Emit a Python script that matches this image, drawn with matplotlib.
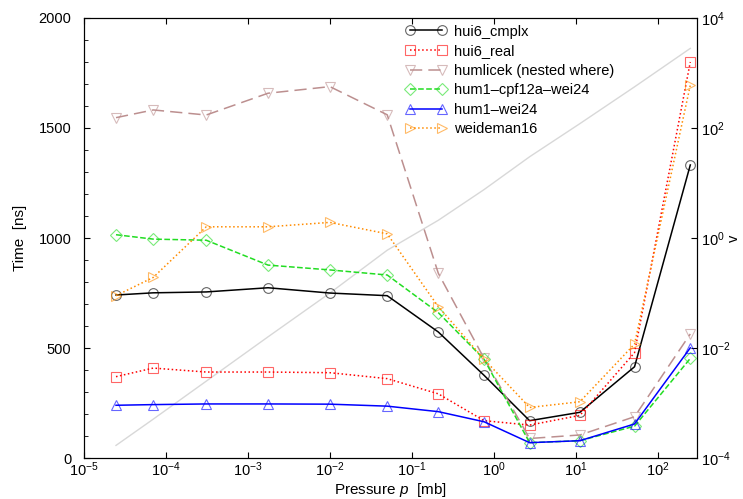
import numpy as np
import matplotlib
matplotlib.use("Agg")
from matplotlib import pyplot as plt
from matplotlib.ticker import NullLocator, MultipleLocator
from matplotlib.transforms import ScaledTranslation

plt.rcParams['font.family'] = ['Liberation Sans', 'DejaVu Sans']
plt.rcParams['mathtext.fontset'] = 'custom'
plt.rcParams['mathtext.rm'] = 'Liberation Sans'
plt.rcParams['mathtext.it'] = 'Liberation Sans:italic'

# pressure levels [mb]
pressure = [2.46e-5, 7.0e-5, 3.1e-4, 1.76e-3, 1.0e-2, 0.05, 0.21, 0.76, 2.73, 11.2, 52.0, 249.0]

# timings [ns]
hui6_cmplx = [741, 751, 755, 774, 750, 738, 573, 376, 170, 208, 415, 1332]
hui6_real = [370, 409, 391, 391, 388, 361, 292, 170, 150, 194, 479, 1800]
humlicek = [1547, 1582, 1559, 1658, 1688, 1560, 840, 453, 89, 105, 188, 564]
hum1_cpf12a = [1015, 995, 990, 877, 855, 832, 661, 449, 70, 79, 145, 453]
hum1_wei24 = [240, 243, 246, 246, 245, 236, 211, 165, 70, 79, 155, 501]
weideman16 = [738, 821, 1051, 1051, 1071, 1019, 688, 449, 230, 256, 518, 1695]

# Voigt parameter (right axis)
v_param = [1.7e-4, 5.1e-4, 2.5e-3, 0.016, 0.1, 0.6, 2.1, 7.6, 30.0, 120.0, 560.0, 2800.0]

series = [
    ('hui6_cmplx', hui6_cmplx, 'black', '-', 'o'),
    ('hui6_real', hui6_real, 'red', ':', 's'),
    ('humlicek (nested where)', humlicek, '#bc8f8f', (0, (8, 4)), 'v'),
    ('hum1\u2013cpf12a\u2013wei24', hum1_cpf12a, '#22dd22', '--', 'D'),
    ('hum1\u2013wei24', hum1_wei24, 'blue', '-', '^'),
    ('weideman16', weideman16, 'darkorange', ':', '>'),
]

fig = plt.figure(figsize=(7.43, 4.99), dpi=100)
ax = fig.add_axes([0.113, 0.082, 0.825, 0.882])
ax2 = ax.twinx()

ax2.plot(pressure, v_param, color='#d8d8d8', lw=1.0)
ax2.set_yscale('log')
ax2.set_ylim(1e-4, 1e4)
ax2.set_yticks([1e-4, 1e-2, 1, 1e2, 1e4])
ax2.yaxis.set_minor_locator(NullLocator())
ax2.set_ylabel('v', fontsize=10.5, labelpad=-3)
ax2.tick_params(axis='y', direction='in', labelsize=10.5, length=4, pad=3)

ax.set_zorder(ax2.get_zorder() + 1)
ax.patch.set_visible(False)

for label, vals, col, ls, mk in series:
    ms = 6 if mk == 'D' else 7
    ax.plot(pressure, vals, color=col, ls=ls, lw=1.1, marker=mk,
            markersize=ms, markerfacecolor='none', markeredgewidth=0.8,
            markeredgecolor=matplotlib.colors.to_rgba(col, 0.6), label=label)

ax.set_xscale('log')
ax.set_xlim(1e-5, 300)
ax.set_ylim(0, 2000)
ax.set_xticks([1e-5, 1e-4, 1e-3, 1e-2, 1e-1, 1, 10, 100])
ax.xaxis.set_minor_locator(NullLocator())
ax.yaxis.set_major_locator(MultipleLocator(500))
ax.yaxis.set_minor_locator(MultipleLocator(100))
ax.tick_params(axis='both', which='both', direction='in', labelsize=10.5, top=True)
ax.tick_params(axis='y', which='major', length=4, pad=9)
ax.tick_params(axis='y', which='minor', length=3)
ax.tick_params(axis='x', which='major', length=4, pad=2)
ax.set_xlabel('Pressure $p$  [mb]', fontsize=11, labelpad=1)
ax.set_ylabel('Time  [ns]', fontsize=11, labelpad=8)

zero = ax.yaxis.get_major_ticks()[0].label1
zero.set_verticalalignment('bottom')
zero.set_transform(zero.get_transform() + ScaledTranslation(0, 0.08, fig.dpi_scale_trans))

ax.legend(loc='upper left', bbox_to_anchor=(0.525, 0.985), frameon=False,
          numpoints=2, fontsize=10.5, labelspacing=0.38, handlelength=2.8,
          handletextpad=0.5, borderpad=0, borderaxespad=0)

fig.savefig('out.png', dpi=100)
